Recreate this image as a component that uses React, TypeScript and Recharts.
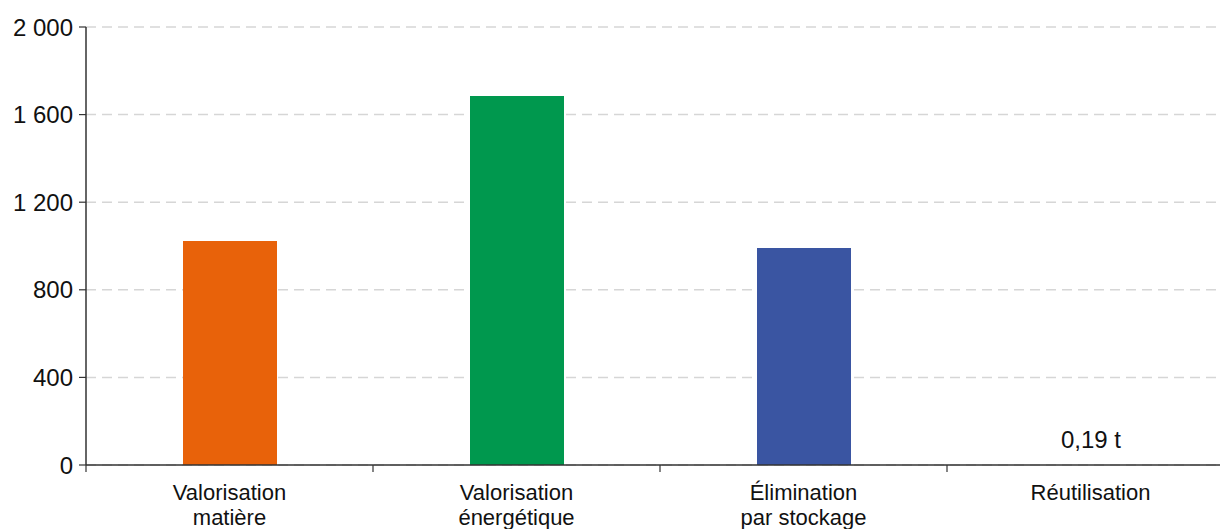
import { BarChart, Bar, XAxis, YAxis, CartesianGrid, Cell, LabelList } from "recharts";

const categories = [
  ["Valorisation", "matière"],
  ["Valorisation", "énergétique"],
  ["Élimination", "par stockage"],
  ["Réutilisation"],
];
const tonnes = [1023, 1685, 991, 0.19];
const barColors = ["#E8620A", "#00984E", "#3A55A2", "#3A55A2"];
const barLabels = ["", "", "", "0,19 t"];
const yTicks = [0, 400, 800, 1200, 1600, 2000];

const data = categories.map((lines, i) => ({
  name: lines.join(" "),
  value: tonnes[i],
  label: barLabels[i],
}));

const CHART_W = 1234;
const CHART_H = 529;
const Y_W = 86;
const FONT = "'Liberation Sans', Arial, Helvetica, sans-serif";
const FS = 24;
const band = (CHART_W - Y_W) / categories.length;

const fmt = (v: number) => String(v).replace(/\B(?=(\d{3})+(?!\d))/g, " ");

// category label, with tick marks at the band edges instead of the centre
const CategoryTick = (props: any) => {
  const { x, y, index } = props;
  const lines = categories[index] || [];
  const left = x - band / 2;
  return (
    <g>
      <line x1={left} y1={y - 8} x2={left} y2={y - 1} stroke="#333" strokeWidth={1.2} />
      {index === categories.length - 1 && (
        <line x1={x + band / 2} y1={y - 8} x2={x + band / 2} y2={y - 1} stroke="#333" strokeWidth={1.2} />
      )}
      {lines.map((t, i) => (
        <text
          key={i}
          x={x}
          y={y + 27 + i * 25}
          textAnchor="middle"
          fontSize={22}
          fontFamily={FONT}
          fill="#111"
        >
          {t}
        </text>
      ))}
    </g>
  );
};

const SmallLabel = (props: any) => {
  const { x, y, width, value } = props;
  if (!value) return null;
  return (
    <text
      x={x + width / 2}
      y={y - 17}
      textAnchor="middle"
      fontSize={FS}
      fontFamily={FONT}
      fill="#111"
    >
      {value}
    </text>
  );
};

export default function App() {
  return (
    <div style={{ width: 1228, height: 529, overflow: "hidden", margin: "-8px 0 0 -8px", background: "#fff" }}>
      <BarChart
        width={CHART_W}
        height={CHART_H}
        data={data}
        margin={{ top: 27, right: 0, bottom: 0, left: 0 }}
      >
        <CartesianGrid vertical={false} stroke="#d6d6d6" strokeDasharray="10 6" strokeWidth={1.5} />
        <XAxis
          dataKey="name"
          height={64}
          tickLine={false}
          axisLine={{ stroke: "#333", strokeWidth: 1.5 }}
          tick={<CategoryTick />}
          interval={0}
        />
        <YAxis
          width={Y_W}
          domain={[0, 2000]}
          ticks={yTicks}
          tickFormatter={fmt}
          tickSize={7}
          tickMargin={6}
          axisLine={{ stroke: "#333", strokeWidth: 1.5 }}
          tickLine={{ stroke: "#333", strokeWidth: 1.2 }}
          tick={{ fontSize: FS, fontFamily: FONT, fill: "#111" }}
        />
        <Bar dataKey="value" barSize={94} isAnimationActive={false}>
          {data.map((d, i) => (
            <Cell key={d.name} fill={barColors[i]} />
          ))}
          <LabelList dataKey="label" content={<SmallLabel />} />
        </Bar>
      </BarChart>
    </div>
  );
}
